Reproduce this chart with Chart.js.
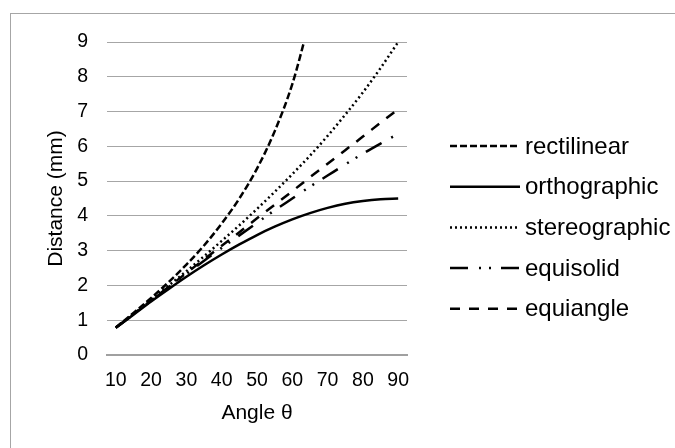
<!DOCTYPE html>
<html>
<head>
<meta charset="utf-8">
<script src="https://cdn.jsdelivr.net/npm/chart.js@4/dist/chart.umd.min.js"></script>
<style>
  html, body { margin: 0; padding: 0; background: #fff; }
  #wrap { position: relative; width: 675px; height: 448px; overflow: hidden; }
  #frame { position: absolute; left: 10px; top: 13px; width: 700px; height: 500px;
           border-left: 1px solid #a6a6a6; border-top: 1px solid #a6a6a6; }
  canvas { position: absolute; left: 0; top: 0; }
</style>
</head>
<body>
<div id="wrap">
  <div id="frame"></div>
  <canvas id="chart" width="675" height="448"></canvas>
</div>
<script>
const angles = [10, 15, 20, 25, 30, 35, 40, 45, 50, 55, 60, 65, 70, 75, 80, 85, 90];
const rectilinear   = [0.79, 1.21, 1.64, 2.10, 2.60, 3.15, 3.78, 4.50, 5.36, 6.43, 7.79, 9.65, null, null, null, null, null];
const orthographic  = [0.78, 1.16, 1.54, 1.90, 2.25, 2.58, 2.89, 3.18, 3.45, 3.69, 3.90, 4.08, 4.23, 4.35, 4.43, 4.48, 4.50];
const stereographic = [0.79, 1.18, 1.59, 2.00, 2.41, 2.84, 3.28, 3.73, 4.20, 4.69, 5.20, 5.73, 6.30, 6.91, 7.55, 8.25, 9.00];
const equisolid     = [0.78, 1.17, 1.56, 1.95, 2.33, 2.71, 3.08, 3.44, 3.80, 4.16, 4.50, 4.84, 5.16, 5.48, 5.79, 6.08, 6.36];
const equiangle     = [0.79, 1.18, 1.57, 1.96, 2.36, 2.75, 3.14, 3.53, 3.93, 4.32, 4.71, 5.11, 5.50, 5.89, 6.28, 6.68, 7.07];
const yTicks = [0, 1, 2, 3, 4, 5, 6, 7, 8, 9];
const xTicks = [10, 20, 30, 40, 50, 60, 70, 80, 90];

const FONT = "'Liberation Sans', Arial, sans-serif";
const INK = "#000";

function points(values) {
  return angles.map((a, i) => ({ x: a, y: values[i] }));
}

function series(label, values, dash) {
  return {
    label,
    data: points(values),
    borderColor: INK,
    borderWidth: 2.5,
    borderDash: dash,
    pointRadius: 0,
    fill: false,
    cubicInterpolationMode: "monotone",
    spanGaps: false
  };
}

// legend drawn at the right, like the spreadsheet one
const sideLegend = {
  id: "sideLegend",
  afterDraw(chart) {
    const ctx = chart.ctx;
    ctx.save();
    ctx.font = "24px " + FONT;
    ctx.textBaseline = "middle";
    ctx.fillStyle = INK;
    chart.data.datasets.forEach((ds, i) => {
      const y = 146 + i * 40.7;
      ctx.beginPath();
      ctx.setLineDash(ds.borderDash || []);
      ctx.lineWidth = ds.borderWidth;
      ctx.strokeStyle = ds.borderColor;
      ctx.moveTo(450, y);
      ctx.lineTo(520, y);
      ctx.stroke();
      ctx.setLineDash([]);
      ctx.fillText(ds.label, 525, y + 1);
    });
    ctx.restore();
  }
};

new Chart(document.getElementById("chart"), {
  type: "line",
  data: {
    datasets: [
      series("rectilinear", rectilinear, [7, 3]),
      series("orthographic", orthographic, []),
      series("stereographic", stereographic, [2, 3]),
      series("equisolid", equisolid, [18, 11, 2, 8, 2, 10]),
      series("equiangle", equiangle, [10, 9])
    ]
  },
  options: {
    responsive: false,
    animation: false,
    layout: { padding: { left: 0, top: 42, right: 268, bottom: 0 } },
    plugins: {
      legend: { display: false },
      tooltip: { enabled: false }
    },
    scales: {
      x: {
        type: "linear",
        min: 7.5,
        max: 92.5,
        afterBuildTicks: s => { s.ticks = xTicks.map(v => ({ value: v })); },
        afterFit: s => { s.height = 93; },
        grid: { display: false, drawTicks: false },
        border: { display: true, color: "#a0a0a0", width: 2 },
        ticks: { color: INK, font: { family: FONT, size: 19.5 }, padding: 14, maxRotation: 0 },
        title: { display: true, text: "Angle θ", color: INK, font: { family: FONT, size: 21 }, padding: { top: 0, bottom: 22 } }
      },
      y: {
        min: 0,
        max: 9,
        afterBuildTicks: s => { s.ticks = yTicks.map(v => ({ value: v })); },
        afterFit: s => { s.width = 107; },
        grid: { color: "#a6a6a6", lineWidth: 1, drawTicks: false },
        border: { display: false },
        ticks: { color: INK, font: { family: FONT, size: 19.5 }, padding: 19 },
        title: { display: true, text: "Distance (mm)", color: INK, font: { family: FONT, size: 21 }, padding: { top: 44, bottom: 0 } }
      }
    }
  },
  plugins: [sideLegend]
});
</script>
</body>
</html>
